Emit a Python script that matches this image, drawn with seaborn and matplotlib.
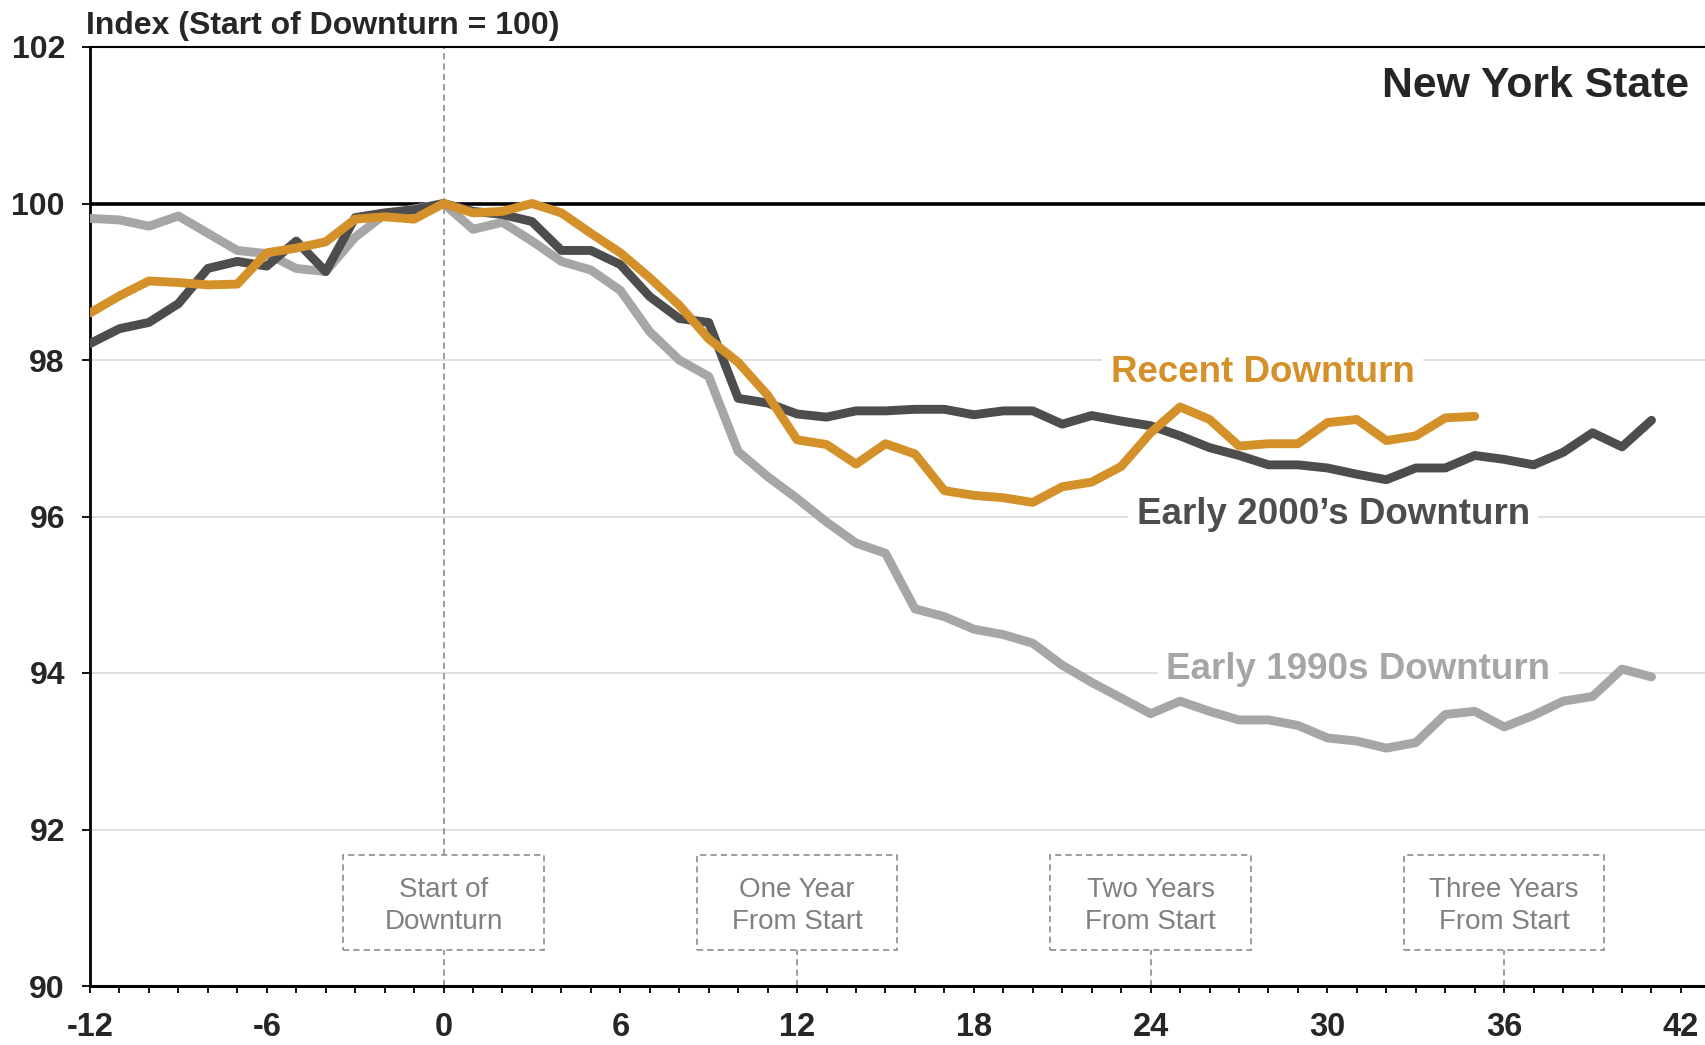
import matplotlib
matplotlib.use("Agg")
import pandas as pd
import matplotlib.pyplot as plt
from matplotlib.patches import Rectangle
from matplotlib.ticker import MultipleLocator
import seaborn as sns

# data (index, start of downturn = 100)
months_long = list(range(-12, 42))
months_recent = list(range(-12, 36))

early_1990s = [99.81, 99.79, 99.71, 99.84, 99.62, 99.40, 99.36, 99.17, 99.13, 99.57, 99.86, 99.93, 100.0,
               99.67, 99.76, 99.52, 99.26, 99.15, 98.89, 98.36, 98.00, 97.79, 96.83, 96.51, 96.23, 95.93,
               95.66, 95.53, 94.82, 94.72, 94.56, 94.49, 94.38, 94.10, 93.88, 93.68, 93.48, 93.64, 93.51,
               93.40, 93.40, 93.33, 93.17, 93.13, 93.04, 93.11, 93.47, 93.51, 93.31, 93.46, 93.64, 93.70,
               94.05, 93.95]
early_2000s = [98.21, 98.40, 98.48, 98.72, 99.17, 99.26, 99.20, 99.52, 99.13, 99.82, 99.88, 99.92, 100.0,
               99.90, 99.86, 99.77, 99.40, 99.40, 99.22, 98.81, 98.53, 98.48, 97.51, 97.45, 97.31, 97.27,
               97.35, 97.35, 97.37, 97.37, 97.30, 97.35, 97.35, 97.18, 97.29, 97.22, 97.16, 97.03, 96.88,
               96.78, 96.66, 96.66, 96.62, 96.54, 96.47, 96.62, 96.62, 96.78, 96.73, 96.66, 96.82, 97.07,
               96.89, 97.23]
recent = [98.60, 98.82, 99.01, 98.99, 98.96, 98.97, 99.37, 99.43, 99.51, 99.80, 99.83, 99.80, 100.0,
          99.88, 99.90, 100.0, 99.88, 99.62, 99.37, 99.05, 98.70, 98.27, 97.97, 97.55, 96.98, 96.92,
          96.67, 96.93, 96.80, 96.33, 96.27, 96.24, 96.18, 96.38, 96.44, 96.64, 97.07, 97.40, 97.24,
          96.90, 96.93, 96.93, 97.20, 97.24, 96.97, 97.03, 97.26, 97.28]

series_names = ["Early 1990s Downturn", "Early 2000\u2019s Downturn", "Recent Downturn"]
series_colors = ["#a6a6a6", "#4d4d4d", "#d4912a"]

milestones = [0, 12, 24, 36]
milestone_labels = ["Start of\nDownturn", "One Year\nFrom Start", "Two Years\nFrom Start", "Three Years\nFrom Start"]

df = pd.concat([
    pd.DataFrame({"month": months_long, "index": early_1990s, "series": series_names[0]}),
    pd.DataFrame({"month": months_long, "index": early_2000s, "series": series_names[1]}),
    pd.DataFrame({"month": months_recent, "index": recent, "series": series_names[2]}),
])

sns.set_style("white")
plt.rcParams["font.family"] = ["Liberation Sans", "DejaVu Sans"]
plt.rcParams["axes.unicode_minus"] = False

fig = plt.figure(figsize=(17.06, 10.45), dpi=100)
ax = fig.add_axes([90 / 1706, 1 - 986 / 1045, 1 - 90 / 1706, (986 - 47) / 1045])

# reference lines and start-of-downturn marker
ax.axhline(100, color="black", lw=2.6, zorder=2)
ax.yaxis.grid(True, color="#d9d9d9", lw=1.2, zorder=0)
ax.set_axisbelow(True)

sns.lineplot(data=df, x="month", y="index", hue="series", palette=dict(zip(series_names, series_colors)),
             hue_order=series_names, linewidth=6.4, legend=False, ax=ax, zorder=3,
             solid_capstyle="round")

ax.set_xlim(-12, 42.85)
ax.set_ylim(90, 102)

# milestone boxes
dash = (0, (3.7, 2.5))
box_w, box_bottom, box_top = 6.8, 90.46, 91.67
for m, lab in zip(milestones, milestone_labels):
    ax.add_patch(Rectangle((m - box_w / 2, box_bottom), box_w, box_top - box_bottom,
                           facecolor="white", edgecolor="#8c8c8c", lw=1.2, linestyle=dash, zorder=4))
    ax.text(m, (box_bottom + box_top) / 2 - 0.04, lab, ha="center", va="center", fontsize=20,
            color="#808080", linespacing=1.32, zorder=5)
    ax.vlines(m, 90, box_bottom, color="#8c8c8c", lw=1.2, linestyle=dash, zorder=1)
ax.vlines(0, box_top, 102, color="#8c8c8c", lw=1.2, linestyle=dash, zorder=1)

# series labels
label_pos = [(31.05, 94.05), (30.2, 96.02), (27.8, 97.84)]
for name, col, (lx, ly) in zip(series_names, series_colors, label_pos):
    ax.text(lx, ly, name, ha="center", va="center", fontsize=26.5, fontweight="bold", color=col,
            zorder=2, bbox=dict(facecolor="white", edgecolor="none", pad=6))

# axes styling
ax.set_xlabel("")
ax.set_ylabel("")
ax.xaxis.set_major_locator(MultipleLocator(6))
ax.xaxis.set_minor_locator(MultipleLocator(1))
ax.yaxis.set_major_locator(MultipleLocator(2))
ax.tick_params(axis="x", which="both", direction="out", length=5, width=1.3, color="black",
               labelsize=23.5, pad=14, bottom=True)
ax.tick_params(axis="y", direction="out", length=6, width=1.3, color="black", labelsize=23, pad=12, left=True)
for lab in ax.get_xticklabels() + ax.get_yticklabels():
    lab.set_fontweight("bold")
ax.spines["right"].set_visible(False)
ax.spines["left"].set_linewidth(2)
ax.spines["bottom"].set_linewidth(2.2)
ax.spines["top"].set_linewidth(1.5)
for s in ["left", "bottom", "top"]:
    ax.spines[s].set_color("black")

fig.text(86 / 1706, 1 - 26 / 1045, "Index (Start of Downturn = 100)", ha="left", va="center",
         fontsize=23, fontweight="bold")
fig.text(1689 / 1706, 1 - 86 / 1045, "New York State", ha="right", va="center",
         fontsize=30.8, fontweight="bold")

fig.savefig("out.png", dpi=100)
